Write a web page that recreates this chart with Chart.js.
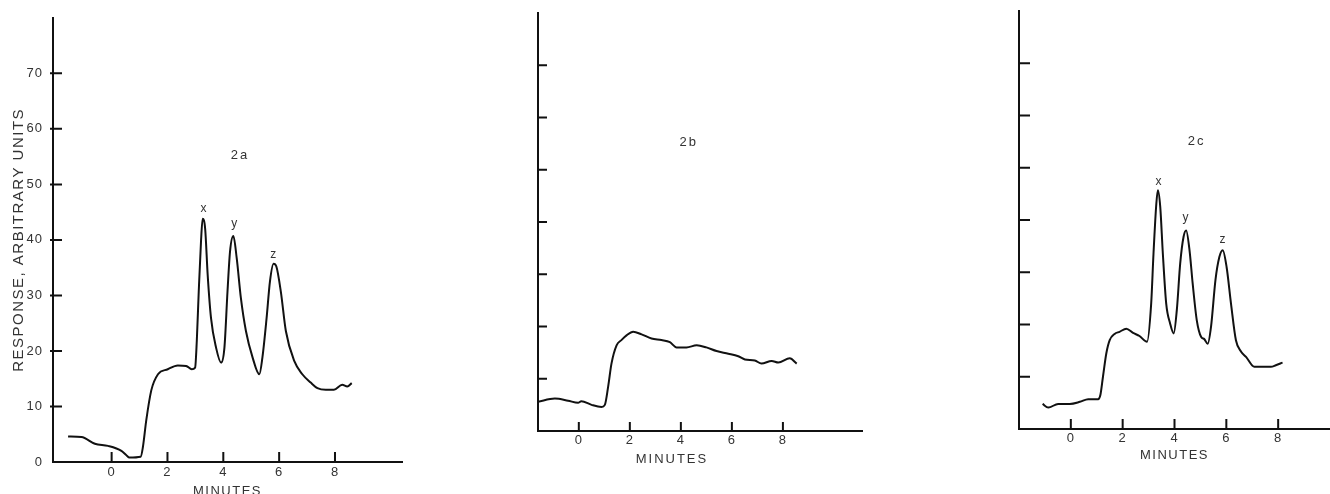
<!DOCTYPE html>
<html>
<head>
<meta charset="utf-8">
<script src="https://cdn.jsdelivr.net/npm/chart.js@4.4.1/dist/chart.umd.min.js"></script>
<style>
  html, body { margin: 0; padding: 0; background: #fff; overflow: hidden; }
  canvas { position: absolute; top: 0; }
</style>
</head>
<body>
<canvas id="chartA" width="420" height="494" style="left:0px"></canvas>
<canvas id="chartB" width="400" height="494" style="left:470px"></canvas>
<canvas id="chartC" width="370" height="494" style="left:960px"></canvas>
<script>
// traces (minutes, arbitrary response units)
var timesA = [-1.56, -1.08, -0.6, -0.13, 0.35, 0.52, 0.64, 1.04, 1.12, 1.24, 1.42, 1.66, 2.01, 2.37, 2.67, 2.87, 2.99,
  3.05, 3.12, 3.2, 3.26, 3.35, 3.44, 3.56, 3.74, 3.92, 4.04, 4.15, 4.24, 4.36, 4.48, 4.63, 4.81, 5.05, 5.29,
  5.4, 5.55, 5.67, 5.8, 5.9, 6.06, 6.24, 6.54, 6.83, 7.13, 7.37, 7.67, 7.96, 8.26, 8.44, 8.6];
var responseA = [4.6, 4.5, 3.3, 2.9, 2.0, 1.25, 0.8, 0.95, 2.7, 7.5, 12.9, 15.8, 16.7, 17.4, 17.3, 16.7, 17.0,
  21.8, 30.7, 39.6, 43.8, 42, 33.7, 25.9, 20.6, 17.9, 20.6, 30.7, 37.9, 40.7, 36.7, 29.5, 23.6, 18.8, 15.8,
  18.8, 25.9, 32.5, 35.7, 35.2, 30.7, 23.6, 18.2, 15.8, 14.3, 13.3, 13.0, 13.0, 13.9, 13.6, 14.2];

var timesB = [-1.6, -0.94, -0.42, -0.03, 0.1, 0.5, 0.89, 1.02, 1.15, 1.28, 1.48, 1.67, 1.87, 2.13, 2.46, 2.85,
  3.24, 3.57, 3.83, 4.22, 4.62, 5.0, 5.4, 5.86, 6.25, 6.51, 6.9, 7.16, 7.56, 7.82, 8.27, 8.54];
var responseB = [5.6, 6.2, 5.8, 5.4, 5.7, 5.0, 4.6, 5.0, 8.5, 12.9, 16.4, 17.4, 18.3, 19.0, 18.5, 17.7,
  17.4, 17.0, 16.0, 16.0, 16.4, 16.0, 15.3, 14.8, 14.3, 13.7, 13.5, 12.9, 13.4, 13.1, 13.9, 12.9];

var timesC = [-1.09, -0.87, -0.49, -0.04, 0.35, 0.67, 1.05, 1.14, 1.24, 1.37, 1.5, 1.69, 1.88, 2.14, 2.4, 2.65,
  2.94, 3.1, 3.19, 3.3, 3.36, 3.45, 3.55, 3.68, 3.83, 3.97, 4.09, 4.22, 4.35, 4.45, 4.58, 4.7, 4.86, 5.03,
  5.15, 5.28, 5.41, 5.58, 5.73, 5.86, 6.01, 6.18, 6.37, 6.57, 6.76, 7.08, 7.4, 7.72, 7.91, 8.17];
var responseC = [4.8, 4.1, 4.8, 4.8, 5.2, 5.7, 5.7, 6.5, 10, 14.5, 17, 18.2, 18.6, 19.2, 18.4, 17.8,
  16.7, 24, 33.6, 43.2, 45.7, 42.5, 33.6, 24, 20.2, 18.3, 22.8, 31.7, 36.8, 38, 34.2, 27.9, 20.8, 17.6,
  17.2, 16.3, 19.6, 28.5, 32.9, 34.2, 31.0, 24, 17, 14.8, 13.8, 11.9, 11.9, 11.9, 12.2, 12.7];

var xTickValues = [0, 2, 4, 6, 8];
var yTickValues = [0, 10, 20, 30, 40, 50, 60, 70];
var peakNames = ['x', 'y', 'z'];

var FONT = '"Liberation Sans", Arial, sans-serif';
var INK = '#111';
var TEXT = '#333';

// wider letter spacing for axis text, like the typed original
var spacing = {
  id: 'spacing',
  beforeDraw: function (chart) {
    Object.values(chart.scales).forEach(function (s) {
      if (s._spaced) return;
      s._spaced = true;
      var drawTitle = s.drawTitle, drawLabels = s.drawLabels;
      s.drawTitle = function () { this.ctx.letterSpacing = '1.5px'; drawTitle.apply(this, arguments); this.ctx.letterSpacing = '0px'; };
      s.drawLabels = function () { this.ctx.letterSpacing = '1px'; drawLabels.apply(this, arguments); this.ctx.letterSpacing = '0px'; };
    });
  }
};

// tick marks pointing into the plot
var inTicks = {
  id: 'inTicks',
  afterDraw: function (chart, args, opts) {
    var ctx = chart.ctx, a = chart.chartArea, x = chart.scales.x, y = chart.scales.y;
    ctx.save();
    ctx.strokeStyle = INK;
    ctx.lineWidth = 2;
    ctx.beginPath();
    xTickValues.forEach(function (v) {
      var px = x.getPixelForValue(v);
      ctx.moveTo(px, a.bottom);
      ctx.lineTo(px, a.bottom - opts.xLen);
    });
    yTickValues.forEach(function (v) {
      if (v === 0) return;
      var py = y.getPixelForValue(v);
      ctx.moveTo(a.left - opts.yOut, py);
      ctx.lineTo(a.left + opts.yLen, py);
    });
    ctx.stroke();
    ctx.restore();
  }
};

// panel names, peak letters and loose captions, anchored in data units
var captions = {
  id: 'captions',
  afterDatasetsDraw: function (chart, args, opts) {
    var ctx = chart.ctx, x = chart.scales.x, y = chart.scales.y;
    ctx.save();
    ctx.fillStyle = TEXT;
    ctx.textAlign = 'center';
    ctx.textBaseline = 'middle';
    opts.items.forEach(function (it) {
      ctx.font = (it.size || 11) + 'px ' + FONT;
      ctx.letterSpacing = (it.sp || 0) + 'px';
      ctx.fillText(it.text, x.getPixelForValue(it.x), y.getPixelForValue(it.y));
    });
    ctx.restore();
  }
};

function peakLabels(pos) {
  return peakNames.map(function (n, i) { return { text: n, x: pos[i][0], y: pos[i][1], size: 12 }; });
}

var panels = [
  {
    id: 'chartA', times: timesA, values: responseA, xMin: -2.1, xMax: 10.4,
    top: 14, right: 18, yWidth: 53, xHeight: 32, xPad: 3, yLabels: true, yTitle: true,
    xTitle: { display: true, pad: -5 }, ticks: { xLen: 10, yLen: 9, yOut: 3 },
    captions: [{ text: '2a', x: 4.6, y: 55.2, size: 13, sp: 2 }].concat(peakLabels([[3.29, 45.7], [4.39, 42.9], [5.79, 37.3]]))
  },
  {
    id: 'chartB', times: timesB, values: responseB, xMin: -1.6, xMax: 11.1,
    top: 13, right: 8, yWidth: 68, xHeight: 63, xPad: 2, yLabels: false, yTitle: false,
    xTitle: { display: false, pad: 0 }, ticks: { xLen: 9, yLen: 9, yOut: 0 },
    captions: [{ text: '2b', x: 4.31, y: 55.2, size: 13, sp: 2 }, { text: 'MINUTES', x: 3.65, y: -5.36, size: 13, sp: 2 }]
  },
  {
    id: 'chartC', times: timesC, values: responseC, xMin: -2.0, xMax: 10.0,
    top: 11, right: 0, yWidth: 59, xHeight: 65, xPad: 2, yLabels: false, yTitle: false,
    xTitle: { display: true, pad: 31 }, ticks: { xLen: 10, yLen: 11, yOut: 0 },
    captions: [{ text: '2c', x: 4.85, y: 55.1, size: 13, sp: 2 }].concat(peakLabels([[3.38, 47.4], [4.42, 40.5], [5.85, 36.3]]))
  }
];

panels.forEach(function (p) {
  new Chart(document.getElementById(p.id), {
    type: 'line',
    data: {
      datasets: [{
        data: p.times.map(function (t, i) { return { x: t, y: p.values[i] }; }),
        borderColor: INK,
        borderWidth: 2,
        pointRadius: 0,
        cubicInterpolationMode: 'monotone',
        fill: false
      }]
    },
    options: {
      responsive: false,
      animation: false,
      devicePixelRatio: 1,
      layout: { padding: { left: 0, top: p.top, right: p.right, bottom: 0 } },
      plugins: {
        legend: { display: false },
        tooltip: { enabled: false },
        inTicks: p.ticks,
        captions: { items: p.captions }
      },
      scales: {
        x: {
          type: 'linear',
          min: p.xMin,
          max: p.xMax,
          afterBuildTicks: function (s) { s.ticks = xTickValues.map(function (v) { return { value: v }; }); },
          afterFit: function (s) { s.height = p.xHeight; },
          grid: { display: false, drawTicks: false },
          border: { color: INK, width: 2 },
          ticks: { padding: p.xPad, color: TEXT, font: { family: FONT, size: 13 } },
          title: {
            display: p.xTitle.display,
            text: 'MINUTES',
            color: TEXT,
            font: { family: FONT, size: 13 },
            padding: { top: 0, bottom: p.xTitle.pad }
          }
        },
        y: {
          min: 0,
          max: 80,
          afterBuildTicks: function (s) { s.ticks = yTickValues.map(function (v) { return { value: v }; }); },
          afterFit: function (s) { s.width = p.yWidth; },
          grid: { display: false, drawTicks: false },
          border: { color: INK, width: 2 },
          ticks: { display: p.yLabels, padding: 10, color: TEXT, font: { family: FONT, size: 13 } },
          title: {
            display: p.yTitle,
            text: 'RESPONSE, ARBITRARY UNITS',
            color: TEXT,
            font: { family: FONT, size: 15 },
            padding: { top: 10, bottom: 0 }
          }
        }
      }
    },
    plugins: [spacing, inTicks, captions]
  });
});
</script>
</body>
</html>
